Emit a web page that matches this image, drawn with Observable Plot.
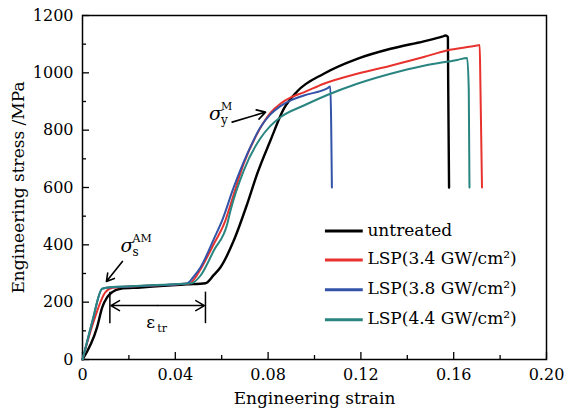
<!DOCTYPE html>
<html>
<head>
<meta charset="utf-8">
<script src="https://cdn.jsdelivr.net/npm/d3@7"></script>
<script src="https://cdn.jsdelivr.net/npm/@observablehq/plot@0.6"></script>
<style>
  html, body { margin: 0; padding: 0; background: #fff; }
</style>
</head>
<body>
<div id="chart"></div>
<script>
// ---- Data (strain, stress MPa) ----
const seriesNames = ["untreated", "LSP(3.4 GW/cm²)", "LSP(3.8 GW/cm²)", "LSP(4.4 GW/cm²)"];
const seriesColors = ["#000000", "#e8322e", "#3353a8", "#2a8580"];
const seriesWidths = [2.4, 2, 2, 2];

const untreated = [
  [0,0],[0.0063,113],[0.0085,182],[0.0106,217],[0.0128,235],[0.0164,247],[0.025,251],[0.035,257],
  [0.045,262],[0.053,266],[0.0566,295],[0.0595,322],[0.0652,415],[0.071,543],[0.0753,648],
  [0.081,764],[0.0868,875],[0.0925,935],[0.104,997],[0.1184,1049],[0.1328,1084],[0.1471,1110],
  [0.155,1126],[0.1565,1130],[0.1575,1125],[0.1576,990],[0.158,600]
];
const lsp34 = [
  [0,0],[0.0045,125],[0.0099,235],[0.013,250],[0.025,256],[0.035,260],[0.046,265],[0.049,290],
  [0.0509,315],[0.0566,403],[0.0616,485],[0.0638,540],[0.0695,683],[0.0767,808],[0.081,860],
  [0.0853,892],[0.09,915],[0.0954,932],[0.104,962],[0.1184,997],[0.1328,1025],[0.1471,1055],
  [0.157,1078],[0.170,1095],[0.1712,1097],[0.1715,965],[0.1722,600]
];
const lsp38 = [
  [0,0],[0.0042,130],[0.0085,247],[0.013,252],[0.025,256],[0.035,260],[0.045,265],[0.048,290],
  [0.0509,322],[0.0566,420],[0.0602,485],[0.0652,601],[0.071,717],[0.0767,810],[0.081,855],
  [0.0853,884],[0.09,905],[0.0954,921],[0.1055,946],[0.1068,952],[0.1075,600]
];
const lsp44 = [
  [0,0],[0.0014,43],[0.0043,136],[0.0085,247],[0.013,253],[0.025,257],[0.035,261],[0.047,266],
  [0.0509,293],[0.0566,380],[0.0624,473],[0.0638,520],[0.0695,659],[0.0767,772],[0.081,815],
  [0.0853,845],[0.0954,886],[0.105,921],[0.1184,962],[0.1328,997],[0.1471,1025],[0.1615,1045],
  [0.1658,1052],[0.1665,940],[0.1668,600]
];
const allSeries = [untreated, lsp34, lsp38, lsp44];

// ---- Axis ticks ----
const xTicks = [0, 0.04, 0.08, 0.12, 0.16, 0.20];
const xMinorTicks = [0.02, 0.06, 0.10, 0.14, 0.18];
const yTicks = [0, 200, 400, 600, 800, 1000, 1200];
const yMinorTicks = [100, 300, 500, 700, 900, 1100];
const xTitle = "Engineering strain";
const yTitle = "Engineering stress /MPa";

// ---- Annotations (data coordinates) ----
const sigmaS = {x: 0.0164, y: 395};
const sigmaSArrow = {x1: 0.0172, y1: 342, x2: 0.0103, y2: 272};
const sigmaY = {x: 0.0545, y: 855};
const sigmaYArrow = {x1: 0.0645, y1: 828, x2: 0.0789, y2: 863};
const epsBars = [0.0118, 0.053];
const epsBarRange = [125, 235];
const epsArrowY = 188;
const epsLabel = {x: 0.0275, y: 130};
const legendX = [0.1045, 0.1208, 0.1228];
const legendY = [448, 347, 243, 139];

// ---- Build table ----
const rows = [];
allSeries.forEach((s, i) => s.forEach(([x, y]) => rows.push({series: seriesNames[i], x, y, i})));
const legendRows = seriesNames.map((name, i) => ({name, y: legendY[i], color: seriesColors[i]}));

const serif = "'DejaVu Serif', 'Liberation Serif', serif";

const marks = [
  Plot.frame({stroke: "black", strokeWidth: 1.5}),
  Plot.axisX(xTicks, {tickSize: -7, tickPadding: 16, strokeWidth: 1.3,
    tickFormat: d => d === 0 ? "0" : d.toFixed(2), fontSize: 16, label: null}),
  Plot.axisX(xMinorTicks, {tickSize: -4, strokeWidth: 1.3, text: null, label: null}),
  Plot.axisY(yTicks, {tickSize: -7, tickPadding: 16, strokeWidth: 1.3,
    tickFormat: d => String(d), fontSize: 16, label: null}),
  Plot.axisY(yMinorTicks, {tickSize: -4, strokeWidth: 1.3, text: null, label: null}),
  Plot.text([xTitle], {frameAnchor: "bottom", dy: 39, fontSize: 17, text: d => d, textAnchor: "middle", lineAnchor: "middle"}),
  Plot.text([yTitle], {frameAnchor: "left", dx: -64, rotate: -90, fontSize: 17, text: d => d, textAnchor: "middle", lineAnchor: "middle"})
];

allSeries.forEach((s, i) => {
  marks.push(Plot.line(rows.filter(r => r.i === i), {x: "x", y: "y", stroke: seriesColors[i],
    strokeWidth: seriesWidths[i], strokeLinejoin: "round", curve: "monotone-x"}));
});

// legend
marks.push(
  Plot.link(legendRows, {x1: legendX[0], x2: legendX[1], y1: "y", y2: "y", stroke: "color", strokeWidth: 3}),
  Plot.text(legendRows, {x: legendX[2], y: "y", text: "name", textAnchor: "start", fontSize: 17, lineAnchor: "middle", dy: -1})
);

// σ_s^AM
marks.push(
  Plot.text(["σ"], {x: sigmaS.x, y: sigmaS.y, text: d => d, fontSize: 19, fontStyle: "italic", textAnchor: "start", lineAnchor: "middle"}),
  Plot.text(["AM"], {x: sigmaS.x, y: sigmaS.y, text: d => d, fontSize: 11, textAnchor: "start", lineAnchor: "middle", dx: 12, dy: -8}),
  Plot.text(["s"], {x: sigmaS.x, y: sigmaS.y, text: d => d, fontSize: 12, textAnchor: "start", lineAnchor: "middle", dx: 12, dy: 6}),
  Plot.arrow([sigmaSArrow], {x1: "x1", y1: "y1", x2: "x2", y2: "y2", stroke: "black", strokeWidth: 1.6, headLength: 9})
);

// σ_y^M
marks.push(
  Plot.text(["σ"], {x: sigmaY.x, y: sigmaY.y, text: d => d, fontSize: 19, fontStyle: "italic", textAnchor: "start", lineAnchor: "middle"}),
  Plot.text(["M"], {x: sigmaY.x, y: sigmaY.y, text: d => d, fontSize: 11, textAnchor: "start", lineAnchor: "middle", dx: 12, dy: -8}),
  Plot.text(["y"], {x: sigmaY.x, y: sigmaY.y, text: d => d, fontSize: 12, textAnchor: "start", lineAnchor: "middle", dx: 12, dy: 6}),
  Plot.arrow([sigmaYArrow], {x1: "x1", y1: "y1", x2: "x2", y2: "y2", stroke: "black", strokeWidth: 1.6, headLength: 9})
);

// ε_tr
marks.push(
  Plot.ruleX(epsBars, {x: d => d, y1: epsBarRange[0], y2: epsBarRange[1], stroke: "black", strokeWidth: 1.5}),
  Plot.arrow([{a: epsBars[0], b: epsBars[1]}], {x1: d => (d.a + d.b) / 2, x2: "a", y1: epsArrowY, y2: epsArrowY, stroke: "black", strokeWidth: 1.5, headLength: 10, insetEnd: 1}),
  Plot.arrow([{a: epsBars[0], b: epsBars[1]}], {x1: d => (d.a + d.b) / 2, x2: "b", y1: epsArrowY, y2: epsArrowY, stroke: "black", strokeWidth: 1.5, headLength: 10, insetEnd: 1}),
  Plot.text(["ε"], {x: epsLabel.x, y: epsLabel.y, text: d => d, fontSize: 17, textAnchor: "start", lineAnchor: "middle"}),
  Plot.text(["tr"], {x: epsLabel.x, y: epsLabel.y, text: d => d, fontSize: 11, textAnchor: "start", lineAnchor: "middle", dx: 11, dy: 6})
);

const chart = Plot.plot({
  width: 566,
  height: 411,
  marginLeft: 82,
  marginRight: 20,
  marginTop: 15,
  marginBottom: 52,
  x: {domain: [0, 0.2]},
  y: {domain: [0, 1200]},
  style: {fontFamily: serif, fontSize: "16px", background: "#fff", color: "#000"},
  marks
});
document.getElementById("chart").appendChild(chart);
</script>
</body>
</html>
